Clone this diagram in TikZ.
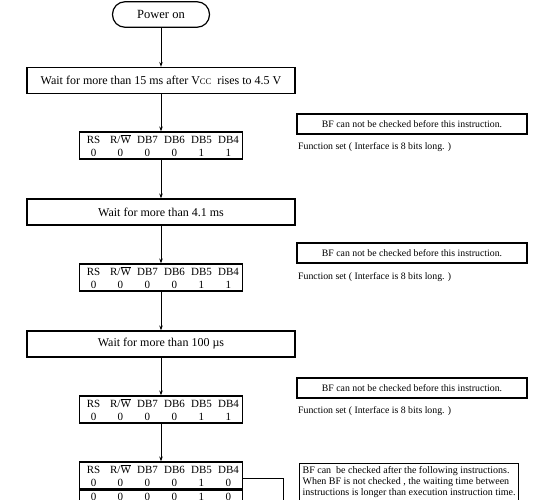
\documentclass[tikz,border=0pt]{standalone}
\usepackage{fontspec}
\setmainfont{Liberation Serif}
\usetikzlibrary{arrows.meta}

\newcommand\bitrow[6]{\makebox[27pt]{#1}\makebox[27pt]{#2}\makebox[27pt]{#3}\makebox[27pt]{#4}\makebox[27pt]{#5}\makebox[27pt]{#6}}
\newcommand\rwbar{R/$\overline{\mbox{W}}$}

\begin{document}
\begin{tikzpicture}[x=1pt,y=-1pt,
  startbox/.style={draw,line width=1.2pt,rounded corners=12.5pt,minimum width=97pt,minimum height=25.5pt,font=\fontsize{12.5}{14}\selectfont},
  waitbox/.style={draw,line width=1.2pt,minimum width=268pt,minimum height=26pt,inner sep=0pt,font=\fontsize{12}{14}\selectfont},
  bitbox/.style={draw,line width=1.2pt,inner sep=0pt,minimum width=162.5pt,minimum height=27pt,align=center,font=\fontsize{11}{13}\selectfont},
  notebox/.style={draw,line width=1.2pt,minimum width=230pt,minimum height=20pt,font=\fontsize{9.8}{11}\selectfont},
  notetext/.style={anchor=west,inner sep=0pt,font=\fontsize{9.8}{11}\selectfont},
  flow/.style={line width=1pt,-{Stealth[length=5pt,width=3.5pt]}}]
\useasboundingbox (0,0) rectangle (550,500);
\clip (0,0) rectangle (550,500);

\node[startbox] (power) at (161,14.5) {Power on};
\node[waitbox] (wait1) at (161,80.5) {Wait for more than 15 ms after V{\fontsize{8.5}{9}\selectfont CC}\ \ rises to 4.5 V};
\node[bitbox] (set1) at (161,145.5) {\bitrow{RS}{\rwbar}{DB7}{DB6}{DB5}{DB4}\\\bitrow{0}{0}{0}{0}{1}{1}};
\node[notebox] (bf1) at (412,124) {BF can not be checked before this instruction.};
\node[notetext] (fs1) at (298,147) {Function set ( Interface is 8 bits long. )};

\node[waitbox] (wait2) at (161,212) {Wait for more than 4.1 ms};
\node[bitbox] (set2) at (161,277.5) {\bitrow{RS}{\rwbar}{DB7}{DB6}{DB5}{DB4}\\\bitrow{0}{0}{0}{0}{1}{1}};
\node[notebox] (bf2) at (412,253) {BF can not be checked before this instruction.};
\node[notetext] (fs2) at (298,277) {Function set ( Interface is 8 bits long. )};

\node[waitbox] (wait3) at (161,344) {Wait for more than 100 µs};
\node[bitbox] (set3) at (161,409.5) {\bitrow{RS}{\rwbar}{DB7}{DB6}{DB5}{DB4}\\\bitrow{0}{0}{0}{0}{1}{1}};
\node[notebox] (bf3) at (412,388) {BF can not be checked before this instruction.};
\node[notetext] (fs3) at (298,411) {Function set ( Interface is 8 bits long. )};

\node[bitbox] (set4) at (161,475.5) {\bitrow{RS}{\rwbar}{DB7}{DB6}{DB5}{DB4}\\\bitrow{0}{0}{0}{0}{1}{0}};
\node[bitbox,minimum height=14pt,anchor=north] (set4b) at (set4.south) {\bitrow{0}{0}{0}{0}{1}{0}};
\node[draw,line width=1.2pt,anchor=north west,inner sep=3pt,align=left,font=\fontsize{10}{11}\selectfont] (bf4) at (299,463)
  {BF can\ \ be checked after the following instructions.\\When BF is not checked , the waiting time between\\instructions is longer than execution instruction time.\\~};
\coordinate (loop) at (283,510);

\draw[flow] (power) -- (wait1);
\draw[flow] (wait1) -- (set1);
\draw[flow] (set1) -- (wait2);
\draw[flow] (wait2) -- (set2);
\draw[flow] (set2) -- (wait3);
\draw[flow] (wait3) -- (set3);
\draw[flow] (set3) -- (set4);
\draw[line width=1pt] ([yshift=-3.5pt]set4.east) -| (loop);

\end{tikzpicture}
\end{document}
